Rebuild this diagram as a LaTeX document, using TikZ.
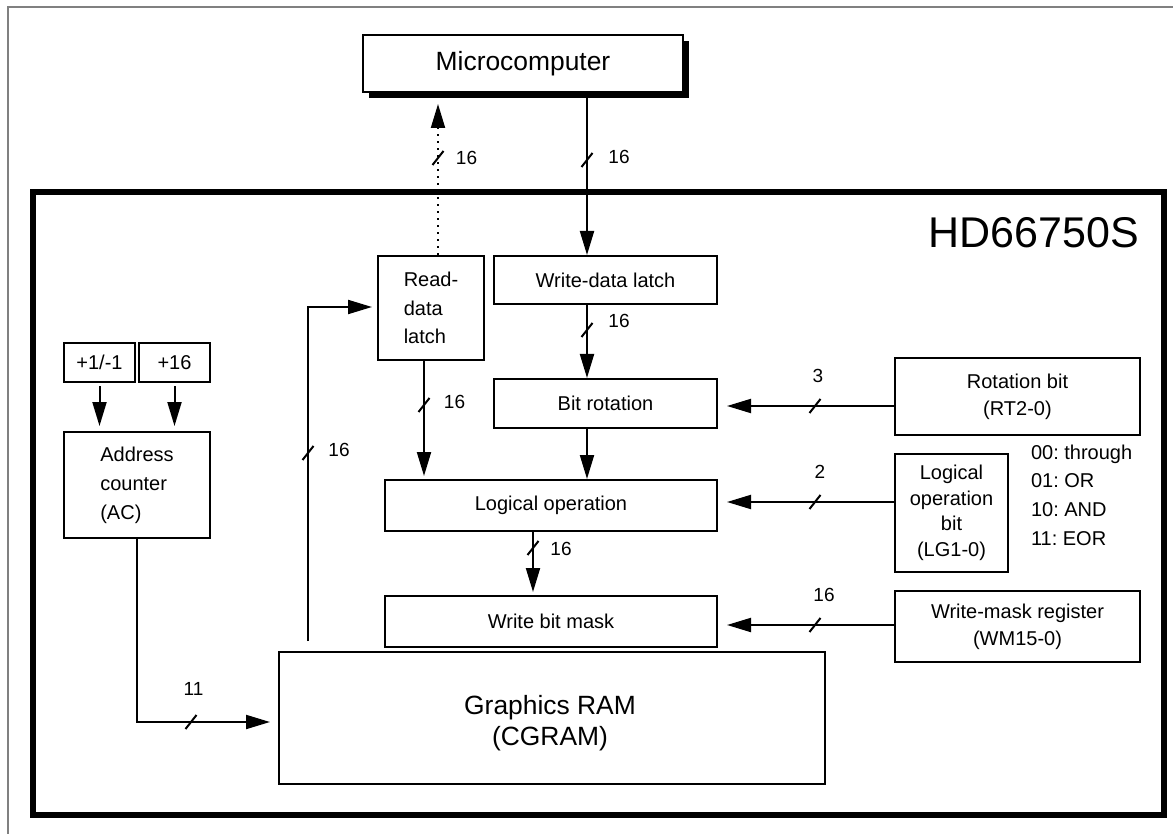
\documentclass[tikz,border=0pt]{standalone}
\usepackage{fontspec}
\setmainfont{Liberation Sans}
\frenchspacing
\usetikzlibrary{arrows.meta,shadows}
\tikzset{
	every path/.style = {line width=1pt},
	block/.style = {draw, fill=white, inner sep=0pt, align=center, font=\fontsize{10}{13.5}\selectfont},
	buslabel/.style = {inner sep=0pt, font=\fontsize{9.5}{11}\selectfont},
	dotbus/.style = {dash pattern=on 1pt off 2.5pt},
	busslash/.pic = {\draw (-5.5,7) -- (5.5,-7);},
	>={Triangle[length=12pt,width=7pt]}
}

\begin{document}
\begin{tikzpicture}[x=0.5pt, y=-0.5pt]
	\useasboundingbox (0,0) rectangle (1173,834);
	% frame
	\draw[gray, line width=0.6pt] (1173,7) -- (8,7) -- (8,834);
	% chip outline
	\node[draw, line width=3pt, inner sep=0pt, minimum width=565.5pt, minimum height=311.5pt] (chip) at (598,503.5) {};
	\node[anchor=east, inner sep=0pt, font=\fontsize{21.5}{24}\selectfont] (chipname) at (1140,233) {HD66750S};
	% blocks
	\node[block, minimum width=160pt, minimum height=28.5pt, font=\fontsize{13.2}{16}\selectfont,
		drop shadow={shadow xshift=3pt, shadow yshift=-3pt, fill=black, opacity=1}] (micro) at (523,63.5) {Microcomputer};
	\node[block, align=left, minimum width=53pt, minimum height=52pt, font=\fontsize{10}{14.3}\selectfont] (rdlatch) at (431,308) {Read-\\data\\latch};
	\node[block, minimum width=111.5pt, minimum height=24pt] (wdlatch) at (605.5,280) {Write-data latch};
	\node[block, minimum width=111.5pt, minimum height=24.5pt] (bitrot) at (605.5,403.5) {Bit rotation};
	\node[block, minimum width=166pt, minimum height=25.5pt] (logop) at (551,505.5) {Logical operation};
	\node[block, minimum width=166pt, minimum height=25.5pt] (wbmask) at (551,621.5) {Write bit mask};
	\node[block, minimum width=273pt, minimum height=66pt] (gram) at (552,718) {};
	\node[inner sep=0pt, align=center, font=\fontsize{13.2}{15.5}\selectfont] (gramname) at (550,723) {Graphics RAM\\(CGRAM)};
	\node[block, minimum width=122.5pt, minimum height=38.5pt] (rotbit) at (1017.5,396.5) {Rotation bit\\(RT2-0)};
	\node[block, minimum width=56.5pt, minimum height=59pt, font=\fontsize{10}{12.8}\selectfont] (lgbit) at (951.5,513) {Logical\\operation\\bit\\(LG1-0)};
	\node[block, minimum width=122.5pt, minimum height=35.5pt] (wmreg) at (1017.5,626.5) {Write-mask register\\(WM15-0)};
	\node[block, minimum width=35.5pt, minimum height=19.5pt] (incone) at (99.5,362.5) {+1/-1};
	\node[block, minimum width=35.5pt, minimum height=19.5pt] (incsix) at (174.5,362.5) {+16};
	\node[block, align=left, minimum width=73pt, minimum height=53pt, font=\fontsize{10}{14.5}\selectfont] (addr) at (137,485) {Address\\counter\\(AC)};
	\node[anchor=west, inner sep=0pt, align=left, font=\fontsize{10}{14.3}\selectfont] (lgcodes) at (1030,495) {00: through\\01: OR\\10: AND\\11: EOR};
	% bus lines
	\coordinate (rdx) at (438,0);
	\coordinate (wrx) at (587,0);
	\coordinate (rlx) at (424,0);
	\coordinate (lox) at (533,0);
	\coordinate (acx) at (137,0);
	\coordinate (fbx) at (308,0);
	\coordinate (rty) at (0,406);
	\coordinate (lgy) at (0,502);
	\coordinate (wmy) at (0,625);
	\coordinate (acy) at (0,722);
	\coordinate (fby) at (0,307);
	\draw[->, dotbus, shorten >=5.5pt] (rdlatch.north -| rdx) -- (micro.south -| rdx);
	\draw[->] (micro.south -| wrx) -- (wdlatch.north -| wrx);
	\draw[->] (wdlatch.south -| wrx) -- (bitrot.north -| wrx);
	\draw[->] (bitrot.south -| wrx) -- (logop.north -| wrx);
	\draw[->, shorten >=1.5pt] (rdlatch.south -| rlx) -- (logop.north -| rlx);
	\draw[->, shorten >=1.5pt] (logop.south -| lox) -- (wbmask.north -| lox);
	\draw[->, shorten >=4.5pt] (rotbit.west |- rty) -- (bitrot.east |- rty);
	\draw[->, shorten >=4.5pt] (lgbit.west |- lgy) -- (logop.east |- lgy);
	\draw[->, shorten >=4.5pt] (wmreg.west |- wmy) -- (wbmask.east |- wmy);
	\draw[->, shorten <=1.5pt, shorten >=2.5pt] (incone.south) -- (addr.north -| incone.south);
	\draw[->, shorten <=1.5pt, shorten >=2.5pt] (incsix.south) -- (addr.north -| incsix.south);
	\draw[->, shorten >=4pt] (addr.south -| acx) -- (acx |- acy) -- (gram.west |- acy);
	\draw[->, shorten <=5pt, shorten >=2.5pt] (gram.north -| fbx) -- (fbx |- fby) -- (rdlatch.west |- fby);
	% bus widths
	\pic at (438,158) {busslash};
	\pic at (587,160) {busslash};
	\pic at (587,330) {busslash};
	\pic at (424,405) {busslash};
	\pic at (533,548) {busslash};
	\pic at (815,406) {busslash};
	\pic at (815,502) {busslash};
	\pic at (815,625) {busslash};
	\pic at (191,722) {busslash};
	\pic at (308,453) {busslash};
	\node[buslabel] (rdw) at (466.5,158) {16};
	\node[buslabel] (wrw) at (619,157) {16};
	\node[buslabel] (wdw) at (619,321) {16};
	\node[buslabel] (rlw) at (454.5,402) {16};
	\node[buslabel] (low) at (561,549) {16};
	\node[buslabel] (rtw) at (818,376) {3};
	\node[buslabel] (lgw) at (820,472) {2};
	\node[buslabel] (wmw) at (824,595) {16};
	\node[buslabel] (acw) at (193.5,689) {11};
	\node[buslabel] (fbw) at (339,450) {16};
\end{tikzpicture}
\end{document}
